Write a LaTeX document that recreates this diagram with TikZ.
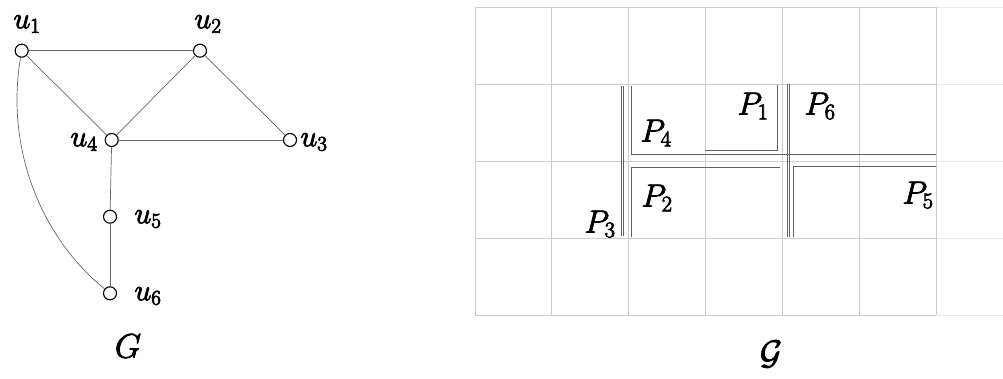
\documentclass[tikz,border=0pt]{standalone}
\usepackage{fix-cm}
\newcommand\medw[1]{\special{pdf:literal direct 2 Tr 0.8 w}#1\special{pdf:literal direct 0 Tr}}
\begin{document}
\begin{tikzpicture}[x=1pt,y=-1pt,
  vtx/.style={circle,draw=black,fill=white,line width=1.1pt,minimum size=13pt,inner sep=0pt},
  edge/.style={draw=black!60,line width=0.7pt},
  lbl/.style={inner sep=0pt,font=\fontsize{30}{32}\selectfont},
  gridl/.style={draw=black!20,line width=0.7pt},
  gridx/.style={draw=black!9,line width=0.6pt},
  pline/.style={draw=black!62,line width=0.9pt},
  plbl/.style={inner sep=0pt,font=\fontsize{32}{34}\selectfont}]
\useasboundingbox (0,0) rectangle (1003,378);
% ---- graph G ----
\node[vtx] (u1) at (21.7,50.7) {};
\node[vtx] (u2) at (200,50.7) {};
\node[vtx] (u3) at (290,140) {};
\node[vtx] (u4) at (111.7,140) {};
\node[vtx] (u5) at (110,216.7) {};
\node[vtx] (u6) at (110,293.3) {};
\draw[edge] (u1) -- (u2);
\draw[edge] (u1) -- (u4);
\draw[edge] (u2) -- (u4);
\draw[edge] (u2) -- (u3);
\draw[edge] (u4) -- (u3);
\draw[edge] (u4) -- (u5);
\draw[edge] (u5) -- (u6);
\draw[edge] (u1) .. controls (5,150) and (42,238) .. (u6);
\node[lbl] (l1) at (27,24) {\medw{$u_1$}};
\node[lbl] (l2) at (208,24) {\medw{$u_2$}};
\node[lbl] (l3) at (314,142) {\medw{$u_3$}};
\node[lbl] (l4) at (84,142) {\medw{$u_4$}};
\node[lbl] (l5) at (148,219) {\medw{$u_5$}};
\node[lbl] (l6) at (148,296) {\medw{$u_6$}};
\node[inner sep=0pt,font=\fontsize{34}{36}\selectfont] (gG) at (128,346) {\medw{$G$}};
% ---- grid ----
\foreach \j in {0,...,4}{
  \draw[gridx] (936,7.3+\j*76.93) -- (1003,7.3+\j*76.93);
  \draw[gridl] (475,7.3+\j*76.93) -- (936,7.3+\j*76.93);
}
\foreach \i in {0,...,6}{
  \draw[gridl] (475+\i*76.83,7.3) -- (475+\i*76.83,315);
}
% ---- paths ----
\draw[pline] (621.5,86) -- (621.5,236);
\draw[pline] (623.8,86) -- (623.8,236);
\draw[pline] (631,86) -- (631,154) -- (936,154);
\draw[pline] (777,85) -- (777,150) -- (705,150);
\draw[pline] (787,84) -- (787,237);
\draw[pline] (789.5,84) -- (789.5,237);
\draw[pline] (780,167) -- (631,167) -- (631,237);
\draw[pline] (936,166) -- (793,166) -- (793,237);
\node[plbl] (p1) at (753,106) {\medw{$P_1$}};
\node[plbl] (p6) at (820,106) {\medw{$P_6$}};
\node[plbl] (p4) at (656,133) {\medw{$P_4$}};
\node[plbl] (p2) at (657,198) {\medw{$P_2$}};
\node[plbl] (p3) at (600,224) {\medw{$P_3$}};
\node[plbl] (p5) at (918,195) {\medw{$P_5$}};
\node[inner sep=0pt,font=\fontsize{34}{36}\selectfont] (gcal) at (771,354) {\medw{$\mathcal{G}$}};
\end{tikzpicture}
\end{document}
